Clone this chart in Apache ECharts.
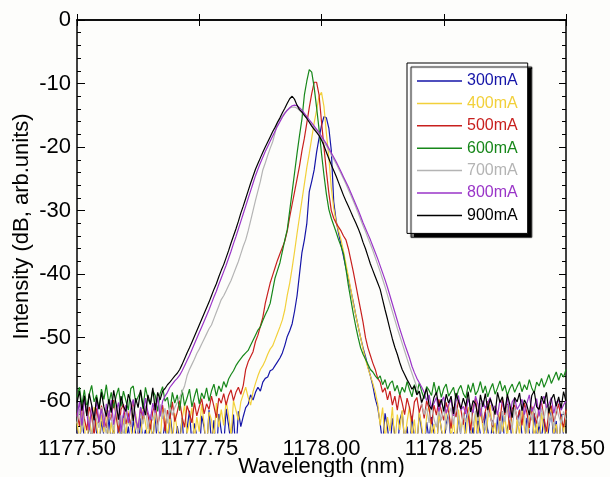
<!DOCTYPE html>
<html>
<head>
<meta charset="utf-8">
<script src="https://cdn.jsdelivr.net/npm/echarts@6/dist/echarts.min.js"></script>
<style>
  html, body { margin: 0; padding: 0; background: #fdfdfb; }
  #main { width: 610px; height: 477px; }
</style>
</head>
<body>
<div id="main"></div>
<script>
// wavelength grid: 1177.500 .. 1178.500 nm, 0.005 nm step (201 samples)
var wlStart = 1177.5, wlStep = 0.005, wlCount = 201;

var names = ['300mA', '400mA', '500mA', '600mA', '700mA', '800mA', '900mA'];
var colors = ['#1515a8', '#f2d03a', '#c8201e', '#17871a', '#b4b4b4', '#9a35c8', '#000000'];

var yTickLabels = [0, -10, -20, -30, -40, -50, -60];

// spectra in dB, one value per wavelength sample
var s300 = [
  -64.6,-66.9,-62.8,-65.7,-68.0,-63.4,-66.2,-61.9,-64.9,-67.5,
  -63.1,-65.4,-67.8,-62.5,-66.0,-64.2,-68.2,-63.7,-65.9,-62.2,
  -66.6,-64.0,-67.2,-63.0,-65.1,-68.1,-62.7,-66.4,-64.5,-67.0,
  -63.6,-65.8,-62.4,-67.7,-64.8,-66.3,-63.2,-68.4,-61.8,-65.2,
  -67.4,-63.9,-66.1,-62.6,-68.3,-64.4,-61.5,-66.8,-63.5,-65.5,
  -68.6,-62.3,-64.1,-67.9,-61.4,-66.5,-63.0,-68.8,-62.0,-64.7,
  -67.1,-61.2,-63.8,-66.7,-62.1,-68.5,-61.6,-64.0,-62.4,-61.0,
  -60.5,-59.0,-59.8,-58.6,-57.8,-58.4,-57.0,-56.4,-56.2,-55.2,
  -55.0,-54.4,-53.8,-53.2,-52.4,-51.2,-49.8,-48.9,-47.8,-45.8,
  -43.4,-40.0,-36.6,-34.6,-32.0,-27.0,-25.4,-23.6,-20.8,-18.6,
  -16.6,-15.2,-15.4,-17.0,-20.5,-28.6,-31.6,-33.6,-35.4,-37.2,
  -39.0,-40.8,-42.6,-44.4,-46.4,-48.2,-50.0,-51.6,-53.0,-54.6,
  -56.0,-57.6,-59.6,-61.0,-63.5,-66.8,-61.9,-64.2,-67.6,-62.7,
  -65.3,-68.1,-63.0,-61.6,-66.5,-64.0,-68.4,-62.3,-65.8,-67.2,
  -61.8,-64.7,-68.0,-63.3,-66.1,-62.5,-65.0,-68.6,-61.5,-64.4,
  -67.3,-63.6,-61.9,-66.7,-64.9,-68.2,-62.1,-65.6,-67.8,-63.2,
  -61.2,-66.3,-64.1,-68.5,-62.8,-65.2,-67.0,-61.7,-64.6,-66.9,
  -63.0,-68.3,-62.4,-65.9,-61.6,-67.4,-64.3,-62.9,-66.6,-68.7,
  -63.5,-61.3,-65.4,-67.7,-62.6,-64.8,-68.1,-61.9,-66.2,-63.7,
  -65.9,-62.3,-67.9,-64.0,-61.4,-66.4,-63.1,-68.0,-62.0,-65.3,-67.1
];
var s400 = [
  -63.2,-66.5,-61.8,-64.0,-67.2,-62.4,-65.6,-60.9,-63.7,-66.8,
  -62.1,-64.9,-61.4,-67.0,-63.3,-65.8,-60.7,-64.4,-66.1,-62.6,
  -65.3,-61.6,-63.9,-67.4,-62.0,-64.7,-66.3,-61.2,-63.5,-65.9,
  -62.8,-67.1,-61.5,-64.2,-66.6,-60.8,-63.0,-65.4,-62.3,-66.9,
  -61.9,-64.6,-67.3,-62.7,-60.6,-65.1,-63.4,-61.0,-66.0,-62.5,
  -64.8,-60.4,-63.6,-67.5,-61.7,-62.9,-66.2,-60.3,-64.1,-61.3,
  -63.8,-60.0,-62.2,-65.5,-59.9,-61.4,-63.0,-60.1,-58.9,-57.8,
  -59.4,-60.6,-58.5,-57.2,-56.0,-55.0,-54.4,-53.6,-52.6,-51.8,
  -51.3,-50.3,-49.3,-48.3,-47.2,-45.6,-43.3,-41.4,-39.0,-36.4,
  -33.6,-31.0,-28.4,-25.8,-23.2,-21.0,-18.6,-16.2,-14.2,-12.0,
  -11.4,-13.6,-17.8,-21.6,-26.4,-29.6,-31.8,-33.2,-34.6,-36.4,
  -38.4,-40.4,-42.4,-44.6,-46.4,-48.2,-50.0,-51.8,-53.4,-54.8,
  -56.0,-57.2,-58.6,-60.4,-63.8,-61.0,-66.2,-62.5,-64.7,-60.9,
  -67.0,-62.1,-64.5,-61.4,-66.4,-63.2,-60.8,-65.7,-62.9,-67.3,
  -61.6,-64.0,-66.9,-62.4,-60.7,-65.2,-63.6,-67.6,-61.9,-64.3,
  -66.1,-62.2,-60.5,-65.8,-63.0,-67.1,-61.3,-64.6,-62.7,-66.5,
  -60.9,-63.9,-67.4,-62.0,-65.3,-61.5,-64.1,-66.7,-62.8,-60.6,
  -65.0,-63.4,-67.2,-61.7,-64.8,-62.3,-66.0,-60.8,-63.7,-67.5,
  -62.6,-65.4,-61.1,-64.2,-66.8,-62.9,-60.7,-65.6,-63.3,-67.0,
  -61.8,-64.5,-66.3,-62.2,-60.9,-65.1,-63.6,-67.3,-62.4,-64.9,-61.5
];
var s500 = [
  -61.8,-63.9,-60.4,-62.7,-64.6,-60.9,-62.3,-65.4,-61.1,-63.5,
  -60.7,-62.9,-64.2,-61.5,-63.0,-59.8,-62.4,-64.9,-61.3,-60.5,
  -63.6,-61.9,-64.0,-60.2,-62.6,-65.2,-61.0,-63.3,-60.8,-62.1,
  -64.4,-61.6,-60.3,-63.8,-62.0,-60.6,-64.7,-61.4,-62.8,-60.1,
  -63.2,-61.7,-59.9,-62.5,-64.1,-60.7,-61.9,-63.4,-60.2,-62.3,
  -60.9,-59.6,-62.0,-60.4,-61.3,-59.2,-60.8,-62.6,-59.5,-60.3,
  -58.8,-60.6,-59.1,-58.2,-59.9,-58.6,-57.8,-58.9,-57.5,-55.0,
  -53.8,-53.0,-52.2,-50.6,-49.6,-48.2,-46.8,-44.6,-43.0,-41.4,
  -40.2,-39.0,-37.8,-36.8,-35.8,-34.8,-33.2,-31.0,-29.0,-27.0,
  -25.0,-23.0,-20.6,-18.6,-16.2,-13.8,-11.6,-9.8,-9.8,-11.8,
  -16.0,-20.0,-23.8,-27.2,-30.0,-31.2,-32.0,-32.6,-33.2,-34.0,
  -34.6,-36.0,-37.8,-39.6,-41.6,-43.6,-45.6,-47.6,-50.0,-51.6,
  -52.8,-54.0,-55.0,-56.4,-57.0,-58.6,-57.9,-59.8,-58.4,-60.6,
  -59.2,-61.4,-58.8,-60.3,-62.1,-59.5,-61.0,-63.2,-60.1,-59.4,
  -61.8,-60.4,-62.7,-59.9,-61.2,-63.6,-60.6,-62.2,-59.7,-61.5,
  -63.0,-60.2,-61.7,-64.3,-60.9,-62.5,-59.8,-61.3,-63.7,-60.5,
  -62.0,-64.6,-61.1,-59.6,-62.8,-60.7,-63.4,-61.6,-60.0,-62.4,
  -64.0,-60.8,-61.9,-63.1,-59.7,-62.2,-60.4,-64.5,-61.2,-60.6,
  -62.9,-61.4,-63.8,-60.3,-61.8,-64.2,-60.9,-62.1,-63.5,-61.0,
  -60.2,-62.6,-64.8,-61.5,-60.7,-63.3,-61.9,-60.4,-62.8,-64.1,-61.3
];
var s600 = [
  -59.4,-57.8,-60.6,-58.2,-61.0,-58.9,-57.5,-60.1,-59.0,-61.3,
  -58.1,-59.7,-57.4,-60.4,-58.6,-61.1,-59.2,-57.9,-60.8,-58.4,
  -59.9,-61.4,-58.0,-57.6,-60.2,-59.3,-58.5,-61.2,-57.8,-59.6,
  -60.5,-58.3,-59.1,-61.6,-58.8,-57.7,-60.0,-59.4,-61.8,-58.6,
  -60.3,-59.0,-61.5,-58.2,-60.7,-59.5,-58.1,-60.9,-59.3,-58.0,
  -60.4,-58.7,-59.6,-57.9,-60.0,-58.4,-57.3,-59.2,-57.6,-58.5,
  -56.9,-57.8,-56.5,-55.8,-55.2,-54.4,-53.8,-53.3,-52.8,-52.4,
  -52.0,-51.2,-50.4,-49.6,-48.8,-48.3,-47.3,-46.4,-45.6,-44.6,
  -42.6,-40.6,-39.4,-38.2,-36.4,-34.6,-33.0,-30.0,-27.0,-24.0,
  -21.0,-18.2,-15.6,-11.8,-9.6,-7.8,-8.2,-10.6,-13.8,-17.2,
  -21.0,-24.4,-27.4,-29.8,-31.2,-32.3,-33.4,-34.6,-35.6,-36.8,
  -39.2,-41.8,-44.0,-46.2,-48.2,-50.0,-51.6,-52.6,-53.4,-54.2,
  -55.0,-55.4,-56.0,-56.5,-56.0,-57.4,-56.6,-58.1,-57.2,-56.8,
  -58.4,-57.5,-59.0,-57.8,-58.6,-56.9,-58.2,-59.3,-57.4,-58.8,
  -57.1,-58.5,-59.6,-57.7,-58.3,-59.1,-57.0,-58.9,-57.6,-59.4,
  -58.0,-57.3,-59.2,-58.5,-57.8,-59.7,-58.2,-57.5,-58.8,-59.5,
  -57.4,-58.6,-57.1,-59.0,-58.3,-56.9,-58.7,-57.6,-59.3,-58.1,
  -57.2,-58.9,-57.9,-56.8,-58.4,-57.5,-59.1,-58.0,-57.3,-58.6,
  -57.7,-56.9,-58.5,-57.4,-58.2,-56.6,-57.9,-58.7,-57.0,-57.6,
  -56.4,-57.8,-56.9,-55.8,-57.2,-56.3,-55.4,-56.7,-55.6,-56.2,-55.0
];
var s700 = [
  -63.5,-61.2,-64.8,-62.0,-60.6,-63.9,-65.6,-61.7,-62.9,-64.2,
  -60.9,-63.1,-65.2,-61.5,-62.7,-64.6,-60.4,-63.8,-62.2,-65.9,
  -61.3,-63.4,-64.0,-60.8,-62.5,-65.1,-61.9,-63.6,-60.7,-64.4,
  -62.1,-63.0,-61.4,-64.7,-60.5,-62.8,-61.1,-63.5,-60.9,-62.2,
  -61.0,-60.2,-59.4,-58.5,-57.6,-56.0,-55.0,-54.2,-53.4,-52.5,
  -51.8,-51.0,-50.2,-49.4,-48.6,-48.0,-47.0,-46.0,-45.0,-44.0,
  -43.4,-42.6,-41.8,-41.0,-40.0,-39.0,-38.0,-36.8,-35.6,-34.6,
  -33.2,-31.6,-30.0,-28.4,-26.9,-25.4,-23.6,-22.5,-21.3,-20.2,
  -19.2,-17.8,-16.2,-15.6,-15.1,-14.6,-14.2,-13.9,-13.7,-13.7,
  -13.9,-14.2,-14.6,-15.0,-15.5,-16.0,-16.5,-17.0,-17.5,-18.0,
  -18.6,-19.2,-19.8,-20.5,-21.2,-21.9,-22.6,-23.4,-24.2,-25.0,
  -25.8,-26.7,-27.6,-28.5,-29.4,-30.4,-31.4,-32.4,-33.3,-34.3,
  -35.3,-36.3,-37.4,-38.5,-39.6,-40.8,-42.0,-43.3,-44.6,-45.9,
  -47.2,-48.5,-49.7,-50.9,-52.1,-53.3,-54.5,-55.6,-56.7,-57.8,
  -58.9,-60.5,-62.1,-61.0,-63.4,-60.6,-62.8,-64.1,-61.3,-63.0,
  -60.9,-64.5,-62.2,-61.0,-63.7,-60.5,-62.6,-65.2,-61.8,-63.3,
  -62.0,-60.7,-64.0,-61.5,-63.1,-60.3,-62.9,-64.6,-61.2,-62.4,
  -63.8,-60.8,-62.0,-65.0,-61.6,-63.2,-60.6,-62.7,-64.3,-61.0,
  -62.5,-63.9,-60.4,-62.2,-64.8,-61.4,-63.0,-60.9,-62.6,-64.0,
  -61.1,-62.8,-60.5,-63.6,-61.9,-64.4,-60.8,-62.3,-63.5,-61.6,-62.9
];
var s800 = [
  -62.4,-60.1,-63.8,-59.6,-61.9,-64.5,-60.7,-62.8,-59.9,-63.3,
  -61.2,-64.1,-60.4,-62.6,-59.8,-63.7,-61.5,-60.2,-64.8,-62.0,
  -60.6,-63.4,-61.1,-59.7,-62.9,-64.2,-60.9,-62.3,-59.5,-61.7,
  -63.0,-60.3,-61.8,-59.4,-62.4,-60.0,-59.2,-58.6,-57.8,-57.3,
  -56.8,-56.4,-55.9,-55.2,-54.4,-53.6,-52.8,-51.9,-51.0,-50.1,
  -49.2,-48.3,-47.4,-46.5,-45.6,-44.6,-43.6,-42.7,-41.6,-40.6,
  -39.6,-38.6,-37.5,-36.4,-35.2,-34.1,-32.9,-31.7,-30.5,-29.3,
  -28.1,-26.9,-25.7,-24.5,-23.5,-22.5,-21.6,-20.7,-19.9,-19.1,
  -18.3,-17.5,-16.7,-16.0,-15.3,-14.7,-14.2,-13.8,-13.5,-13.4,
  -13.5,-13.8,-14.2,-14.7,-15.2,-15.7,-16.2,-16.7,-17.2,-17.7,
  -18.3,-18.9,-19.5,-20.2,-20.9,-21.6,-22.3,-23.1,-23.9,-24.7,
  -25.5,-26.3,-27.2,-28.1,-29.0,-29.9,-30.9,-31.9,-32.8,-33.7,
  -34.6,-35.6,-36.6,-37.6,-38.7,-39.8,-40.9,-42.1,-43.4,-44.7,
  -46.0,-47.3,-48.6,-49.8,-51.0,-52.1,-53.2,-54.5,-55.5,-56.4,
  -57.1,-57.8,-58.6,-59.9,-59.0,-61.2,-60.3,-59.4,-61.6,-60.1,
  -59.3,-61.9,-60.6,-59.7,-62.3,-60.0,-59.1,-61.4,-60.8,-62.0,
  -59.6,-60.9,-61.8,-59.2,-60.5,-62.4,-59.9,-61.1,-60.2,-59.4,
  -61.5,-60.7,-62.2,-59.8,-60.4,-61.7,-59.3,-62.6,-60.1,-59.5,
  -61.3,-60.6,-59.7,-62.1,-60.3,-59.0,-61.6,-60.8,-59.6,-62.4,
  -60.0,-59.2,-61.0,-60.5,-59.4,-61.9,-60.2,-59.8,-61.4,-60.6,-59.9
];
var s900 = [
  -60.2,-58.4,-61.5,-59.1,-62.3,-58.8,-60.6,-63.0,-59.4,-61.2,
  -58.6,-60.9,-62.4,-59.7,-61.8,-58.3,-60.4,-62.9,-59.2,-60.8,
  -61.6,-58.9,-60.1,-63.1,-59.5,-61.0,-58.2,-60.7,-62.2,-59.0,
  -60.5,-57.9,-61.4,-58.6,-59.8,-58.4,-58.0,-57.4,-57.0,-56.5,
  -56.0,-55.6,-55.0,-54.2,-53.3,-52.4,-51.6,-50.7,-49.8,-48.9,
  -48.0,-47.1,-46.2,-45.3,-44.4,-43.4,-42.4,-41.5,-40.4,-39.4,
  -38.5,-37.4,-36.3,-35.1,-34.0,-32.9,-31.7,-30.4,-29.3,-28.1,
  -26.9,-25.7,-24.6,-23.5,-22.6,-21.7,-20.8,-20.0,-19.2,-18.4,
  -17.6,-16.9,-16.1,-15.4,-14.6,-13.9,-13.1,-12.4,-12.0,-12.5,
  -13.4,-14.1,-14.5,-15.0,-15.5,-16.1,-16.7,-17.2,-17.7,-18.2,
  -18.9,-19.8,-20.8,-21.8,-22.8,-23.7,-24.6,-25.6,-26.6,-27.6,
  -28.5,-29.3,-30.2,-31.1,-31.9,-32.8,-33.8,-35.0,-36.0,-37.2,
  -38.4,-39.4,-40.4,-41.4,-42.4,-44.0,-45.6,-47.1,-48.7,-50.2,
  -51.5,-52.6,-53.9,-55.0,-55.8,-56.6,-57.3,-58.1,-57.6,-59.0,
  -58.4,-60.2,-59.1,-58.0,-60.6,-61.3,-59.4,-58.6,-60.9,-59.7,
  -61.6,-58.9,-60.3,-59.2,-62.0,-58.7,-60.0,-61.2,-59.5,-60.8,
  -58.5,-61.7,-59.9,-60.4,-62.5,-59.0,-60.9,-58.8,-61.4,-59.6,
  -60.7,-62.1,-58.6,-60.2,-59.3,-61.8,-58.9,-60.5,-62.6,-59.4,
  -60.1,-58.7,-61.5,-59.8,-60.6,-62.2,-59.1,-58.4,-60.9,-61.3,
  -59.2,-60.4,-58.6,-61.9,-59.7,-58.9,-60.8,-59.3,-61.1,-58.5,-60.0
];

var spectra = [s300, s400, s500, s600, s700, s800, s900];

var wavelength = [];
for (var i = 0; i < wlCount; i++) {
  wavelength.push(+(wlStart + i * wlStep).toFixed(3));
}

// minor ticks every 2 dB (skip the labelled ones)
var yMinorTicks = [];
for (var v = -2; v >= -64; v -= 2) {
  if (v % 10 !== 0) yMinorTicks.push(v);
}

var font = '"Liberation Sans", Arial, sans-serif';
var frame = { show: true, lineStyle: { color: '#000', width: 1.5 } };

var chart = echarts.init(document.getElementById('main'));

var series = names.map(function (name, k) {
  return {
    name: name,
    type: 'line',
    xAxisIndex: 0,
    yAxisIndex: 0,
    showSymbol: false,
    symbol: 'none',
    clip: true,
    lineStyle: { color: colors[k], width: 1.2 },
    itemStyle: { color: colors[k] },
    data: wavelength.map(function (x, i) { return [x, spectra[k][i]]; })
  };
});

var option = {
  backgroundColor: '#fdfdfb',
  animation: false,
  grid: { left: 77, right: 44, top: 20, bottom: 44, containLabel: false, outerBoundsMode: 'none' },
  legend: {
    orient: 'vertical',
    left: 407,
    top: 63,
    padding: [10, 10, 10, 10],
    icon: 'rect',
    itemWidth: 45,
    itemHeight: 1.5,
    itemGap: 6.4,
    backgroundColor: '#ffffff',
    borderColor: '#000',
    borderWidth: 1,
    shadowColor: 'rgba(0,0,0,1)',
    shadowBlur: 1,
    shadowOffsetX: 4,
    shadowOffsetY: 4,
    textStyle: { fontSize: 16, fontFamily: font },
    data: names.map(function (n, k) {
      return { name: n, textStyle: { color: colors[k] } };
    })
  },
  xAxis: [
    {
      type: 'value',
      position: 'bottom',
      min: 1177.5,
      max: 1178.5,
      interval: 0.25,
      name: 'Wavelength (nm)',
      nameLocation: 'middle',
      nameGap: 23,
      nameMoveOverlap: false,
      nameTextStyle: { fontSize: 22, color: '#000', fontFamily: font },
      axisLine: frame,
      axisTick: { inside: true, length: 6, lineStyle: { color: '#000' } },
      axisLabel: {
        fontSize: 22, color: '#000', fontFamily: font, margin: 5,
        formatter: function (v) { return v.toFixed(2); }
      },
      splitLine: { show: false }
    },
    {
      type: 'value',
      position: 'top',
      min: 1177.5,
      max: 1178.5,
      interval: 0.25,
      axisLine: frame,
      axisTick: { inside: true, length: 6, lineStyle: { color: '#000' } },
      axisLabel: { show: false },
      splitLine: { show: false }
    }
  ],
  yAxis: [
    {
      type: 'value',
      position: 'left',
      min: -65,
      max: 0,
      name: 'Intensity (dB, arb.units)',
      nameLocation: 'middle',
      nameGap: 44,
      nameMoveOverlap: false,
      nameTextStyle: { fontSize: 22, color: '#000', fontFamily: font },
      axisLine: frame,
      axisTick: { inside: true, length: 8, customValues: yTickLabels, lineStyle: { color: '#000' } },
      axisLabel: { fontSize: 22, color: '#000', fontFamily: font, margin: 6, customValues: yTickLabels },
      splitLine: { show: false }
    },
    {
      type: 'value',
      position: 'left',
      min: -65,
      max: 0,
      axisLine: { show: false },
      axisTick: { show: true, inside: true, length: 4, customValues: yMinorTicks, lineStyle: { color: '#000' } },
      axisLabel: { show: false },
      splitLine: { show: false }
    },
    {
      type: 'value',
      position: 'right',
      min: -65,
      max: 0,
      axisLine: frame,
      axisTick: { inside: true, length: 7, customValues: yTickLabels, lineStyle: { color: '#000' } },
      axisLabel: { show: false },
      splitLine: { show: false }
    },
    {
      type: 'value',
      position: 'right',
      min: -65,
      max: 0,
      axisLine: { show: false },
      axisTick: { show: true, inside: true, length: 4, customValues: yMinorTicks, lineStyle: { color: '#000' } },
      axisLabel: { show: false },
      splitLine: { show: false }
    }
  ],
  series: series
};

chart.setOption(option);
</script>
</body>
</html>
